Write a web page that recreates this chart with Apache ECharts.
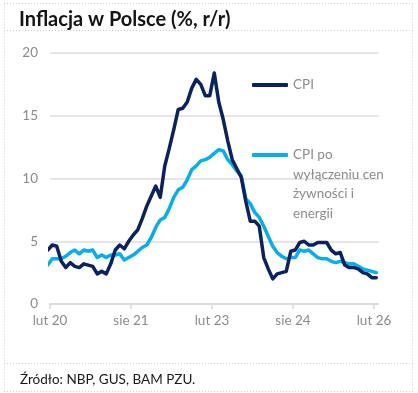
<!DOCTYPE html>
<html>
<head>
<meta charset="utf-8">
<script src="https://cdn.jsdelivr.net/npm/echarts@6/dist/echarts.min.js"></script>
<style>
html,body{margin:0;padding:0;background:#fff;}
#chart{width:418px;height:393px;}
</style>
</head>
<body>
<div id="chart"></div>
<script>
// Monthly data, Jan 2020 .. Feb 2026
const months = [
  '2020-01','2020-02','2020-03','2020-04','2020-05','2020-06','2020-07','2020-08','2020-09','2020-10','2020-11','2020-12',
  '2021-01','2021-02','2021-03','2021-04','2021-05','2021-06','2021-07','2021-08','2021-09','2021-10','2021-11','2021-12',
  '2022-01','2022-02','2022-03','2022-04','2022-05','2022-06','2022-07','2022-08','2022-09','2022-10','2022-11','2022-12',
  '2023-01','2023-02','2023-03','2023-04','2023-05','2023-06','2023-07','2023-08','2023-09','2023-10','2023-11','2023-12',
  '2024-01','2024-02','2024-03','2024-04','2024-05','2024-06','2024-07','2024-08','2024-09','2024-10','2024-11','2024-12',
  '2025-01','2025-02','2025-03','2025-04','2025-05','2025-06','2025-07','2025-08','2025-09','2025-10','2025-11','2025-12',
  '2026-01','2026-02'
];
const cpi = [
  4.3, 4.7, 4.6, 3.4, 2.9, 3.3, 3.0, 2.9, 3.2, 3.1, 3.0, 2.4,
  2.6, 2.4, 3.2, 4.3, 4.7, 4.4, 5.0, 5.5, 5.9, 6.8, 7.8, 8.6,
  9.4, 8.5, 11.0, 12.4, 13.9, 15.5, 15.6, 16.1, 17.2, 17.9, 17.5, 16.6,
  16.6, 18.4, 16.1, 14.7, 13.0, 11.5, 10.8, 10.1, 8.2, 6.6, 6.6, 6.2,
  3.7, 2.8, 2.0, 2.4, 2.5, 2.6, 4.2, 4.3, 4.9, 5.0, 4.7, 4.7,
  4.9, 4.9, 4.9, 4.3, 4.0, 4.1, 3.1, 2.9, 2.9, 2.8, 2.5, 2.4,
  2.1, 2.1
];
const core = [
  3.1, 3.6, 3.6, 3.6, 3.8, 4.1, 4.3, 4.0, 4.3, 4.2, 4.3, 3.7,
  3.9, 3.7, 3.9, 3.9, 4.0, 3.5, 3.7, 3.9, 4.2, 4.5, 4.7, 5.3,
  6.1, 6.7, 6.9, 7.6, 8.5, 9.1, 9.3, 9.9, 10.7, 11.0, 11.4, 11.5,
  11.7, 12.0, 12.3, 12.2, 11.5, 11.1, 10.6, 10.2, 8.4, 8.0, 7.3, 6.9,
  6.2, 5.4, 4.6, 4.1, 3.8, 3.6, 3.7, 3.7, 4.3, 4.2, 4.3, 4.0,
  3.7, 3.6, 3.6, 3.4, 3.3, 3.4, 3.3, 3.2, 3.2, 3.0, 2.8, 2.7,
  2.6, 2.5
];
// x-axis ticks: month offsets from 1 Feb 2020
const tickValues = [0, 18, 36, 54, 72];
const tickLabels = ['lut 20', 'sie 21', 'lut 23', 'sie 24', 'lut 26'];
const seriesNames = ['CPI', 'CPI po wyłączeniu cen żywności i energii'];

// each monthly value plotted mid-month (offset in months from 1 Feb 2020)
function toPoints(vals) {
  return vals.map((v, i) => [i - 0.5, v]);
}

const FONT = 'Lato, "Open Sans", sans-serif';
const chart = echarts.init(document.getElementById('chart'), null, {renderer: 'canvas'});
const borderStyle = {stroke: '#cfcfcf', lineWidth: 1, lineDash: [1, 2]};

chart.setOption({
  backgroundColor: '#fff',
  animation: false,
  title: [
    {text: 'Inflacja w Polsce (%, r/r)', left: 14, top: 5,
     textStyle: {fontFamily: FONT, fontSize: 20, fontWeight: 'bold', color: '#141414'}},
    {text: 'Źródło: NBP, GUS, BAM PZU.', left: 15, top: 368,
     textStyle: {fontFamily: FONT, fontSize: 13.5, fontWeight: 'normal', color: '#1a1a1a'}}
  ],
  grid: {left: 50, right: 39.5, top: 53, bottom: 89},
  xAxis: {
    type: 'value', min: 0, max: 73,
    axisLine: {show: true, lineStyle: {color: '#d9d9d9', width: 1.5}},
    axisTick: {show: true, length: 5, customValues: tickValues, lineStyle: {color: '#d9d9d9', width: 1.5}},
    axisLabel: {
      customValues: tickValues, margin: 10,
      fontFamily: FONT, fontSize: 13.5, color: '#8c8c8c',
      formatter: v => { const k = tickValues.indexOf(Math.round(v)); return k >= 0 ? tickLabels[k] : ''; }
    },
    splitLine: {show: false}
  },
  yAxis: {
    type: 'value', min: 0, max: 20, interval: 5,
    axisLine: {show: false}, axisTick: {show: false},
    axisLabel: {margin: 12, fontFamily: FONT, fontSize: 13.5, color: '#8c8c8c'},
    splitLine: {lineStyle: {color: '#dedede', width: 1.5}}
  },
  legend: [
    {data: [seriesNames[0]], left: 252, top: 75.25, padding: 0,
     icon: 'roundRect', itemWidth: 36, itemHeight: 4,
     textStyle: {fontFamily: FONT, fontSize: 13.5, color: '#8c8c8c', lineHeight: 19.5}},
    {data: [seriesNames[1]], left: 252, top: 86.75, padding: 0,
     icon: 'roundRect', itemWidth: 36, itemHeight: 4,
     formatter: () => '\n\n\nCPI po\nwyłączeniu cen\nżywności i\nenergii',
     textStyle: {fontFamily: FONT, fontSize: 13.5, color: '#8c8c8c', lineHeight: 19.5}}
  ],
  series: [
    {name: seriesNames[1], type: 'line', data: toPoints(core), showSymbol: false, clip: true,
     color: '#08aeea', lineStyle: {width: 3.5, color: '#08aeea', join: 'round', cap: 'round'}, z: 2},
    {name: seriesNames[0], type: 'line', data: toPoints(cpi), showSymbol: false, clip: true,
     color: '#0c2260', lineStyle: {width: 3.5, color: '#0c2260', join: 'round', cap: 'round'}, z: 3}
  ],
  graphic: [
    {type: 'line', shape: {x1: 4, y1: 3.5, x2: 413, y2: 3.5}, style: borderStyle, silent: true},
    {type: 'line', shape: {x1: 4, y1: 30.5, x2: 413, y2: 30.5}, style: borderStyle, silent: true},
    {type: 'line', shape: {x1: 4, y1: 363.5, x2: 413, y2: 363.5}, style: borderStyle, silent: true},
    {type: 'line', shape: {x1: 4, y1: 391.5, x2: 413, y2: 391.5}, style: borderStyle, silent: true},
    {type: 'line', shape: {x1: 4.5, y1: 3.5, x2: 4.5, y2: 391.5}, style: borderStyle, silent: true},
    {type: 'line', shape: {x1: 412.5, y1: 3.5, x2: 412.5, y2: 391.5}, style: borderStyle, silent: true}
  ]
});
</script>
</body>
</html>
